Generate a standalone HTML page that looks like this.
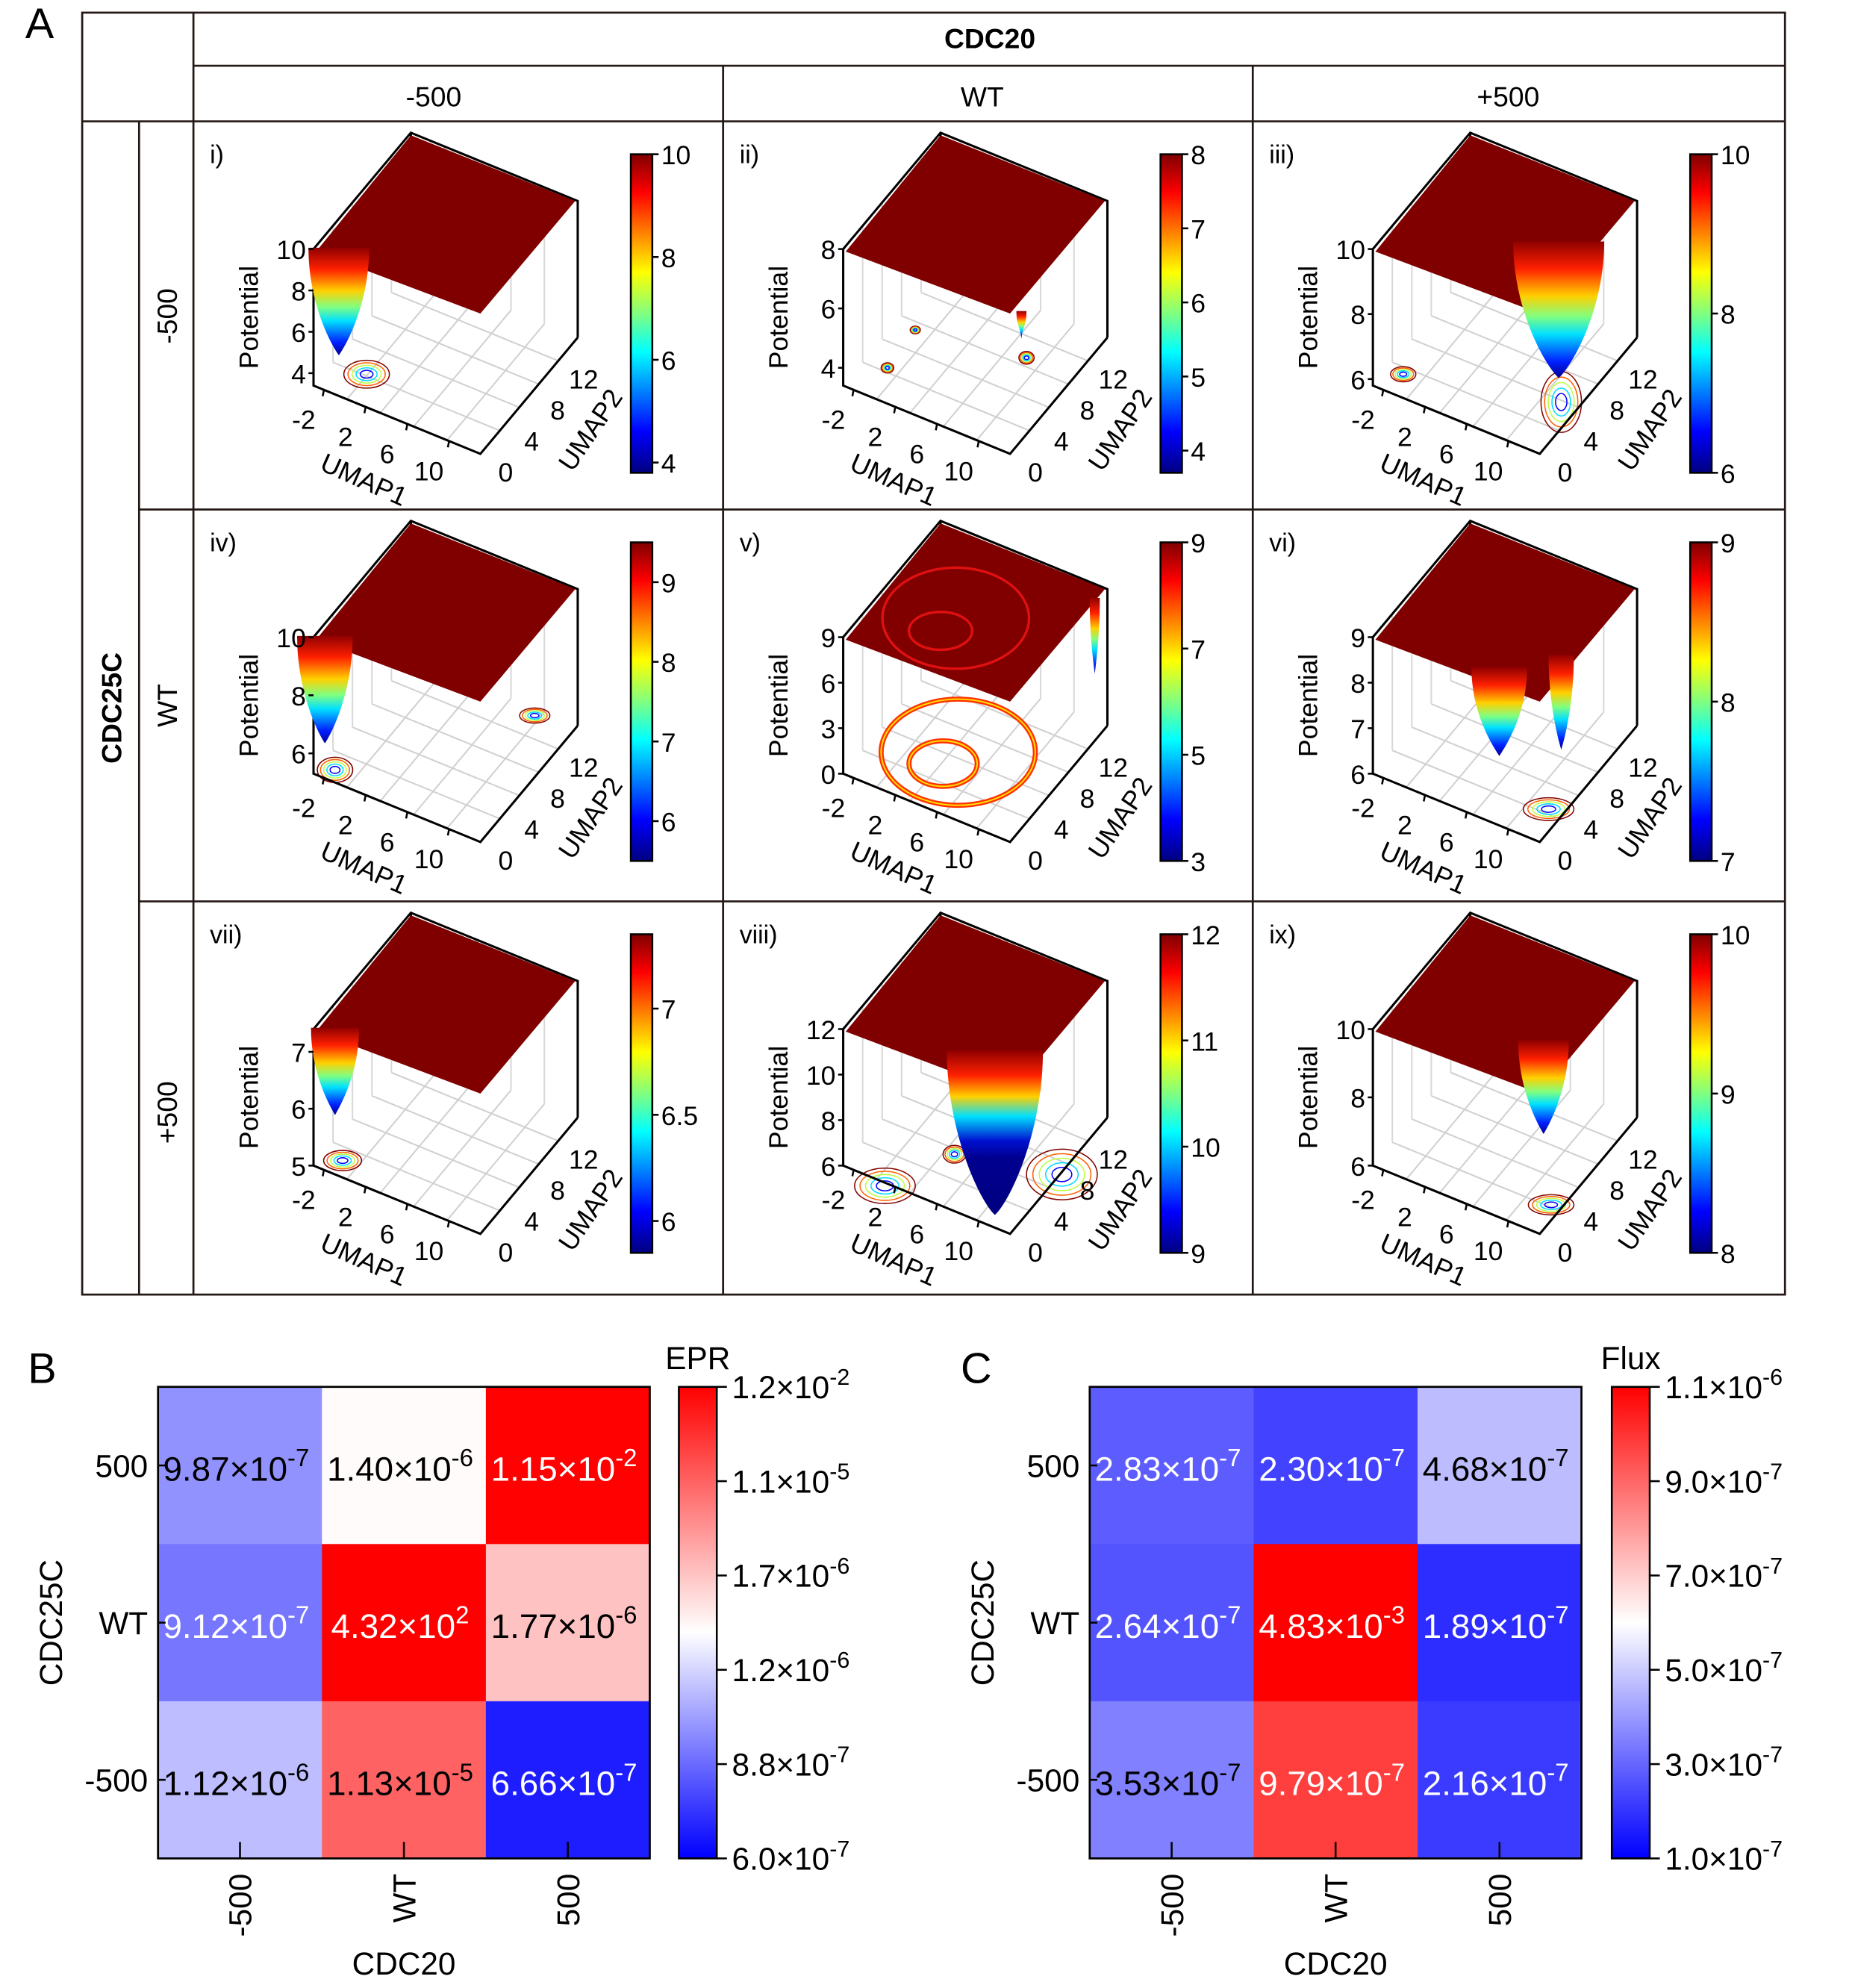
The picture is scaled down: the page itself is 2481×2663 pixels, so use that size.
<!DOCTYPE html>
<html><head><meta charset="utf-8">
<style>
html,body{margin:0;padding:0;background:#fff;}
svg{display:block;font-family:"Liberation Sans",Arial,sans-serif;}
</style></head>
<body>
<svg id="fig" xmlns="http://www.w3.org/2000/svg" width="2481" height="2663" viewBox="0 0 1465 1572.5">
<defs>
<linearGradient id="jetV" x1="0" y1="0" x2="0" y2="1">
<stop offset="0" stop-color="#800000"/><stop offset="0.12" stop-color="#ff0000"/><stop offset="0.37" stop-color="#ffff00"/><stop offset="0.5" stop-color="#80ff80"/><stop offset="0.62" stop-color="#00ffff"/><stop offset="0.87" stop-color="#0000ff"/><stop offset="1" stop-color="#000080"/>
</linearGradient>
<linearGradient id="wellG" x1="0" y1="0" x2="0" y2="1">
<stop offset="0" stop-color="#900000"/><stop offset="0.2" stop-color="#ff2000"/><stop offset="0.4" stop-color="#ffd000"/><stop offset="0.55" stop-color="#80ff80"/><stop offset="0.68" stop-color="#00e0ff"/><stop offset="0.88" stop-color="#0020ff"/><stop offset="1" stop-color="#000090"/>
</linearGradient>
<linearGradient id="wellDeep" x1="0" y1="0" x2="0" y2="1">
<stop offset="0" stop-color="#900000"/><stop offset="0.15" stop-color="#ff2000"/><stop offset="0.28" stop-color="#ffd000"/><stop offset="0.4" stop-color="#00e0ff"/><stop offset="0.55" stop-color="#0010d0"/><stop offset="0.65" stop-color="#000090"/><stop offset="1" stop-color="#000080"/>
</linearGradient>
<linearGradient id="bwrB" x1="0" y1="1" x2="0" y2="0">
<stop offset="0" stop-color="#0000ff"/><stop offset="0.48" stop-color="#ffffff"/><stop offset="1" stop-color="#ff0000"/>
</linearGradient>
<linearGradient id="bwrC" x1="0" y1="1" x2="0" y2="0">
<stop offset="0" stop-color="#0000ff"/><stop offset="0.5" stop-color="#ffffff"/><stop offset="1" stop-color="#ff0000"/>
</linearGradient>
</defs>

<g stroke="#231815" stroke-width="1.6" fill="none">
<rect x="65" y="10" width="1347" height="1014"/>
<line x1="153" y1="10" x2="153" y2="1024"/>
<line x1="153" y1="52" x2="1412" y2="52"/>
<line x1="65" y1="96" x2="1412" y2="96"/>
<line x1="110" y1="96" x2="110" y2="1024"/>
<line x1="572" y1="52" x2="572" y2="1024"/>
<line x1="991" y1="52" x2="991" y2="1024"/>
<line x1="110" y1="403" x2="1412" y2="403"/>
<line x1="110" y1="713" x2="1412" y2="713"/>
</g>
<text x="20" y="30" font-size="34">A</text>
<text x="783" y="38" font-size="22" font-weight="bold" text-anchor="middle">CDC20</text>
<text x="343" y="84" font-size="22" text-anchor="middle">-500</text>
<text x="777" y="84" font-size="22" text-anchor="middle">WT</text>
<text x="1193" y="84" font-size="22" text-anchor="middle">+500</text>
<text transform="translate(96,560) rotate(-90)" font-size="22" font-weight="bold" text-anchor="middle">CDC25C</text>
<text transform="translate(140,250) rotate(-90)" font-size="22" text-anchor="middle">-500</text>
<text transform="translate(140,558) rotate(-90)" font-size="22" text-anchor="middle">WT</text>
<text transform="translate(140,880) rotate(-90)" font-size="22" text-anchor="middle">+500</text>

<g id="panels"></g>
<g id="heatB"></g>
<g id="heatC"></g>
</svg>

<script>
// ---------- Heatmap data ----------
const rowCats = ["500", "WT", "-500"];
const colCats = ["-500", "WT", "500"];
const eprMant = [[9.87, 1.40, 1.15], [9.12, 4.32, 1.77], [1.12, 1.13, 6.66]];
const eprExp  = [[-7, -6, -2], [-7, 2, -6], [-6, -5, -7]];
const eprTickMant = [6.0, 8.8, 1.2, 1.7, 1.1, 1.2];
const eprTickExp  = [-7, -7, -6, -6, -5, -2];
const fluxMant = [[2.83, 2.30, 4.68], [2.64, 4.83, 1.89], [3.53, 9.79, 2.16]];
const fluxExp  = [[-7, -7, -7], [-7, -3, -7], [-7, -7, -7]];
const fluxTickMant = [1.0, 3.0, 5.0, 7.0, 9.0, 1.1];
const fluxTickExp  = [-7, -7, -7, -7, -7, -6];

// ---------- 3D panel data ----------
const panelLabels = ["i)", "ii)", "iii)", "iv)", "v)", "vi)", "vii)", "viii)", "ix)"];
const zTicks = [[10, 8, 6, 4], [8, 6, 4], [10, 8, 6], [10, 8, 6], [9, 6, 3, 0], [9, 8, 7, 6], [7, 6, 5], [12, 10, 8, 6], [10, 8, 6]];
const zMin = [3.4, 3.4, 5.8, 5.3, 0, 6, 5, 6, 6];
const zMax = [10, 8, 10, 10, 9, 9, 7.4, 12, 10];
const cbTicks = [[10, 8, 6, 4], [8, 7, 6, 5, 4], [10, 8, 6], [9, 8, 7, 6], [9, 7, 5, 3], [9, 8, 7], [7, 6.5, 6], [12, 11, 10, 9], [10, 9, 8]];
const cbMin = [3.8, 3.7, 6, 5.5, 3, 7, 5.85, 9, 8];
const cbMax = [10, 8, 10, 9.5, 9, 9, 7.35, 12, 10];
const umap1Ticks = [-2, 2, 6, 10];
const umap2Ticks = [0, 4, 8, 12];
// wells (panel-relative sketch): [x, yTop, yTip, halfWidth]
const wells = [[[115, 100, 185, 24]], [[236, 150, 172, 4]], [[242, 95, 203, 36]],
  [[104, 100, 185, 22]], [[294, 70, 130, 4]], [[195, 125, 195, 22], [244, 115, 190, 10]],
  [[112, 100, 169, 19]], [[215, 118, 248, 38]], [[230, 110, 184, 20]]];
// floor contours: [x, y, rx, ry]
const contours = [[[137, 200, 18, 11]], [[130, 195, 5, 4], [152, 165, 4, 3], [240, 187, 6, 5]], [[244, 222, 16, 24], [119, 200, 10, 6]],
  [[112, 206, 14, 10], [270, 163, 12, 6]], [], [[234, 237, 20, 9]], [[118, 205, 15, 8]], [[128, 225, 24, 14], [183, 200, 9, 7], [268, 216, 28, 20]], [[236, 240, 18, 8]]];

const NS = "http://www.w3.org/2000/svg";
function mk(tag, parent) { const e = document.createElementNS(NS, tag); parent.appendChild(e); return e; }
function jet(t) {
  t = Math.max(0, Math.min(1, t));
  const r = Math.max(0, Math.min(1, 1.5 - Math.abs(4 * t - 3)));
  const g = Math.max(0, Math.min(1, 1.5 - Math.abs(4 * t - 2)));
  const b = Math.max(0, Math.min(1, 1.5 - Math.abs(4 * t - 1)));
  return `rgb(${Math.round(r * 255)},${Math.round(g * 255)},${Math.round(b * 255)})`;
}

const cols = [153, 572, 991];
const rowsY = [96, 403, 713];
const panelsG = document.getElementById("panels");

for (let p = 0; p < 9; p++) {
  const ox = cols[p % 3], oy = rowsY[Math.floor(p / 3)];
  const g = mk("g", panelsG);
  
  
  g.setAttribute("transform", `translate(${ox},${oy})`);
  const L = [95, 209], F = [227, 263], R = [304, 171], H = 108;
  function floorPt(u1, u2) {
    const a = (u1 + 3) / 16, b = u2 / 15;
    return [L[0] + a * (F[0] - L[0]) + b * (R[0] - F[0]), L[1] + a * (F[1] - L[1]) + b * (R[1] - F[1])];
  }
  function zY(z) { return -(z - zMin[p]) / (zMax[p] - zMin[p]) * H; }
  const B = [L[0] + R[0] - F[0], L[1] + R[1] - F[1]];

  const grid = mk("g", g);
  
  
  for (let k = 1; k <= 4; k++) {
    const u1 = -3 + k * 3.2;
    const a = floorPt(u1, 0), b = floorPt(u1, 15);
    const ln = mk("line", grid);
    ln.setAttribute("x1", a[0]); ln.setAttribute("y1", a[1]); ln.setAttribute("x2", b[0]); ln.setAttribute("y2", b[1]);
    ln.setAttribute("stroke", "#d0d0d0"); ln.setAttribute("stroke-width", "1.2");
    const u2 = k * 3;
    const c = floorPt(-3, u2), d = floorPt(13, u2);
    const ln2 = mk("line", grid);
    ln2.setAttribute("x1", c[0]); ln2.setAttribute("y1", c[1]); ln2.setAttribute("x2", d[0]); ln2.setAttribute("y2", d[1]);
    ln2.setAttribute("stroke", "#d0d0d0"); ln2.setAttribute("stroke-width", "1.2");
    const e1 = [B[0] + (R[0] - B[0]) * k / 5, B[1] + (R[1] - B[1]) * k / 5];
    const ln3 = mk("line", grid);
    ln3.setAttribute("x1", e1[0]); ln3.setAttribute("y1", e1[1]); ln3.setAttribute("x2", e1[0]); ln3.setAttribute("y2", e1[1] - H);
    ln3.setAttribute("stroke", "#d8d8d8"); ln3.setAttribute("stroke-width", "1.2");
    const e2 = [L[0] + (B[0] - L[0]) * k / 5, L[1] + (B[1] - L[1]) * k / 5];
    const ln4 = mk("line", grid);
    ln4.setAttribute("x1", e2[0]); ln4.setAttribute("y1", e2[1]); ln4.setAttribute("x2", e2[0]); ln4.setAttribute("y2", e2[1] - H);
    ln4.setAttribute("stroke", "#d8d8d8"); ln4.setAttribute("stroke-width", "1.2");
  }

  contours[p].forEach(c => {
    for (let k = 0; k < 5; k++) {
      const el = mk("ellipse", g);
      
      
      el.setAttribute("cx", c[0]); el.setAttribute("cy", c[1]);
      el.setAttribute("rx", c[2] * (1 - k * 0.18)); el.setAttribute("ry", c[3] * (1 - k * 0.18));
      el.setAttribute("fill", "none"); el.setAttribute("stroke", jet(1 - k * 0.22)); el.setAttribute("stroke-width", "0.9");
    }
  });
  if (p === 4) {
    const ringsF = [[186, 192, 61, 42], [174, 201, 27, 18]];
    ringsF.forEach(r => {
      const el = mk("ellipse", g);
      
      
      el.setAttribute("cx", r[0]); el.setAttribute("cy", r[1]); el.setAttribute("rx", r[2]); el.setAttribute("ry", r[3]);
      el.setAttribute("fill", "none"); el.setAttribute("stroke", "#ff3000"); el.setAttribute("stroke-width", "4");
      const el2 = mk("ellipse", g);
      
      
      el2.setAttribute("cx", r[0]); el2.setAttribute("cy", r[1]); el2.setAttribute("rx", r[2]); el2.setAttribute("ry", r[3]);
      el2.setAttribute("fill", "none"); el2.setAttribute("stroke", "#ffe000"); el2.setAttribute("stroke-width", "1.2");
    });
  }

  const ax = mk("path", g);
  
  
  ax.setAttribute("d", `M${L[0]},${L[1] - H} L${L[0]},${L[1]} L${F[0]},${F[1]} L${R[0]},${R[1]} M${R[0]},${R[1]} L${R[0]},${R[1] - H} L${B[0]},${B[1] - H} L${L[0]},${L[1] - H} M${B[0]},${B[1] - H} L${B[0]},${B[1]}`);
  ax.setAttribute("fill", "none"); ax.setAttribute("stroke", "#000"); ax.setAttribute("stroke-width", "1.8");

  const top = -H;
  const plane = mk("polygon", g);
  
  
  plane.setAttribute("points", `${L[0] + 2},${L[1] + top + 2} ${B[0]},${B[1] + top + 2} ${R[0] - 2},${R[1] + top} ${F[0]},${F[1] + top - 3}`);
  plane.setAttribute("fill", "#800000");
  if (p === 4) {
    [[184, 86, 58, 40], [172, 96, 25, 15]].forEach(r => {
      const el = mk("ellipse", g);
      
      
      el.setAttribute("cx", r[0]); el.setAttribute("cy", r[1]); el.setAttribute("rx", r[2]); el.setAttribute("ry", r[3]);
      el.setAttribute("fill", "none"); el.setAttribute("stroke", "#e01010"); el.setAttribute("stroke-width", "2");
    });
  }
  wells[p].forEach(w => {
    const cx = w[0], yTop = w[1], yBot = w[2], hw = w[3];
    const el = mk("path", g);
    
    
    el.setAttribute("d", `M${cx - hw},${yTop} L${cx + hw},${yTop} C${cx + hw},${yTop + (yBot - yTop) * 0.5} ${cx + hw * 0.3},${yBot - 10} ${cx},${yBot} C${cx - hw * 0.3},${yBot - 10} ${cx - hw},${yTop + (yBot - yTop) * 0.5} ${cx - hw},${yTop} Z`);
    el.setAttribute("fill", p === 7 ? "url(#wellDeep)" : "url(#wellG)");
  });

  zTicks[p].forEach(z => {
    const y = L[1] + zY(z);
    const t = mk("line", g);
    t.setAttribute("x1", L[0] - 4); t.setAttribute("x2", L[0]); t.setAttribute("y1", y); t.setAttribute("y2", y);
    t.setAttribute("stroke", "#000"); t.setAttribute("stroke-width", "1.5");
    const tx = mk("text", g);
    
    
    tx.setAttribute("x", L[0] - 6); tx.setAttribute("y", y + 8); tx.setAttribute("font-size", "21"); tx.setAttribute("text-anchor", "end");
    tx.textContent = z;
  });
  const zl = mk("text", g);
  
  
  zl.setAttribute("transform", `translate(51,155) rotate(-90)`); zl.setAttribute("font-size", "21"); zl.setAttribute("text-anchor", "middle");
  zl.textContent = "Potential";

  umap1Ticks.forEach(u => {
    const fp = floorPt(u, 0);
    const tk = mk("line", g);
    tk.setAttribute("x1", fp[0]); tk.setAttribute("y1", fp[1]); tk.setAttribute("x2", fp[0] - 1); tk.setAttribute("y2", fp[1] + 5);
    tk.setAttribute("stroke", "#000"); tk.setAttribute("stroke-width", "1.5");
    const tx = mk("text", g);
    
    
    tx.setAttribute("x", fp[0] - 16); tx.setAttribute("y", fp[1] + 31); tx.setAttribute("font-size", "21"); tx.setAttribute("text-anchor", "middle");
    tx.textContent = u;
  });
  const u1l = mk("text", g);
  
  
  u1l.setAttribute("transform", "translate(132,290) rotate(24)"); u1l.setAttribute("font-size", "21"); u1l.setAttribute("text-anchor", "middle");
  u1l.textContent = "UMAP1";
  umap2Ticks.forEach(u => {
    const fp = floorPt(13, u);
    const tx = mk("text", g);
    
    
    tx.setAttribute("x", fp[0] + 20); tx.setAttribute("y", fp[1] + 22); tx.setAttribute("font-size", "21"); tx.setAttribute("text-anchor", "middle");
    tx.textContent = u;
  });
  const u2l = mk("text", g);
  
  
  u2l.setAttribute("transform", "translate(320,248) rotate(-56)"); u2l.setAttribute("font-size", "21"); u2l.setAttribute("text-anchor", "middle");
  u2l.textContent = "UMAP2";

  const pl = mk("text", g);
  
  
  pl.setAttribute("x", 13); pl.setAttribute("y", 33); pl.setAttribute("font-size", "20");
  pl.textContent = panelLabels[p];

  const cbTop = 26, cbBot = 278, cbX = 346, cbW = 17;
  const cb = mk("rect", g);
  
  
  cb.setAttribute("x", cbX); cb.setAttribute("y", cbTop); cb.setAttribute("width", cbW); cb.setAttribute("height", cbBot - cbTop);
  cb.setAttribute("fill", "url(#jetV)"); cb.setAttribute("stroke", "#000"); cb.setAttribute("stroke-width", "1.5");
  cbTicks[p].forEach(v => {
    const y = cbBot - (v - cbMin[p]) / (cbMax[p] - cbMin[p]) * (cbBot - cbTop);
    const t = mk("line", g);
    t.setAttribute("x1", cbX + cbW); t.setAttribute("x2", cbX + cbW + 5); t.setAttribute("y1", y); t.setAttribute("y2", y);
    t.setAttribute("stroke", "#000"); t.setAttribute("stroke-width", "1.5");
    const tx = mk("text", g);
    
    
    tx.setAttribute("x", cbX + cbW + 7); tx.setAttribute("y", y + 8); tx.setAttribute("font-size", "21");
    tx.textContent = v;
  });
}

// ---------- Heatmaps ----------
function sciText(parent, x, y, mantStr, exp, fs, fill, anchor) {
  const t = mk("text", parent);
  t.setAttribute("x", x); t.setAttribute("y", y); t.setAttribute("font-size", fs); t.setAttribute("fill", fill);
  if (anchor) t.setAttribute("text-anchor", anchor);
  const a = mk("tspan", t); a.textContent = mantStr + "\u00d710";
  const b = mk("tspan", t); b.setAttribute("dy", -fs * 0.42); b.setAttribute("font-size", fs * 0.72); b.textContent = exp;
  return t;
}
function drawHeat(gid, X0, Y0, W, Hh, mant, exps, tickM, tickE, whiteAt, scaleFn, gradId, cbX, title, letter, letterX, name) {
  const g = document.getElementById(gid);
  
  
  const cw = W / 3, ch = Hh / 3;
  const tickVals = tickM.map((m, i) => m * Math.pow(10, tickE[i]));
  for (let r = 0; r < 3; r++) for (let c = 0; c < 3; c++) {
    const v = mant[r][c] * Math.pow(10, exps[r][c]);
    const t = scaleFn(v, tickVals);
    let col, dist;
    if (t < whiteAt) { const f = t / whiteAt; const k = Math.round(255 * f); col = `rgb(${k},${k},255)`; dist = 1 - f; }
    else { const f = (t - whiteAt) / (1 - whiteAt); const k = Math.round(255 * (1 - f)); col = `rgb(255,${k},${k})`; dist = f; }
    const rect = mk("rect", g);
    
    
    rect.setAttribute("x", X0 + c * cw); rect.setAttribute("y", Y0 + r * ch); rect.setAttribute("width", cw + 0.5); rect.setAttribute("height", ch + 0.5);
    rect.setAttribute("fill", col);
    const white = t < whiteAt ? dist > 0.52 : dist > 0.7;
    const tx = sciText(g, X0 + c * cw + cw / 2 - 3, Y0 + r * ch + ch / 2 + 12, mant[r][c].toFixed(2), exps[r][c], 27, white ? "#fff" : "#000", "middle");
    
    
  }
  const fr = mk("rect", g);
  fr.setAttribute("x", X0); fr.setAttribute("y", Y0); fr.setAttribute("width", W); fr.setAttribute("height", Hh);
  fr.setAttribute("fill", "none"); fr.setAttribute("stroke", "#000"); fr.setAttribute("stroke-width", "1.6");
  rowCats.forEach((rc, r) => {
    const y = Y0 + r * ch + ch / 2;
    const tk = mk("line", g);
    tk.setAttribute("x1", X0); tk.setAttribute("x2", X0 + 6); tk.setAttribute("y1", y); tk.setAttribute("y2", y);
    tk.setAttribute("stroke", "#000"); tk.setAttribute("stroke-width", "1.5");
    const tx = mk("text", g);
    
    
    tx.setAttribute("x", X0 - 8); tx.setAttribute("y", y + 9); tx.setAttribute("font-size", "25"); tx.setAttribute("text-anchor", "end");
    tx.textContent = rc;
  });
  colCats.forEach((cc, c) => {
    const x = X0 + c * cw + cw / 2;
    const tk = mk("line", g);
    tk.setAttribute("x1", x); tk.setAttribute("x2", x); tk.setAttribute("y1", Y0 + Hh); tk.setAttribute("y2", Y0 + Hh - 13);
    tk.setAttribute("stroke", "#000"); tk.setAttribute("stroke-width", "1.5");
    const tx = mk("text", g);
    
    
    tx.setAttribute("transform", `translate(${x + 9},${Y0 + Hh + 12}) rotate(-90)`); tx.setAttribute("font-size", "25"); tx.setAttribute("text-anchor", "end");
    tx.textContent = cc;
  });
  const xt = mk("text", g);
  
  
  xt.setAttribute("x", X0 + W / 2); xt.setAttribute("y", Y0 + Hh + 92); xt.setAttribute("font-size", "25"); xt.setAttribute("text-anchor", "middle");
  xt.textContent = "CDC20";
  const yt = mk("text", g);
  
  
  yt.setAttribute("transform", `translate(${X0 - 76},${Y0 + Hh / 2}) rotate(-90)`); yt.setAttribute("font-size", "25"); yt.setAttribute("text-anchor", "middle");
  yt.textContent = "CDC25C";
  const cb = mk("rect", g);
  
  
  cb.setAttribute("x", cbX); cb.setAttribute("y", Y0); cb.setAttribute("width", 30); cb.setAttribute("height", Hh);
  cb.setAttribute("fill", `url(#${gradId})`); cb.setAttribute("stroke", "#000"); cb.setAttribute("stroke-width", "1.5");
  tickM.forEach((m, i) => {
    const y = Y0 + Hh - i / (tickM.length - 1) * Hh;
    const tk = mk("line", g);
    tk.setAttribute("x1", cbX + 30); tk.setAttribute("x2", cbX + 38); tk.setAttribute("y1", y); tk.setAttribute("y2", y);
    tk.setAttribute("stroke", "#000"); tk.setAttribute("stroke-width", "1.5");
    const tx = sciText(g, cbX + 42, y + 9, m.toFixed(1), tickE[i], 25, "#000", null);
    
    
  });
  const ct = mk("text", g);
  
  
  ct.setAttribute("x", cbX + 15); ct.setAttribute("y", Y0 - 14); ct.setAttribute("font-size", "25"); ct.setAttribute("text-anchor", "middle");
  ct.textContent = title;
  const lt = mk("text", g);
  
  
  lt.setAttribute("x", letterX); lt.setAttribute("y", Y0 - 3); lt.setAttribute("font-size", "34");
  lt.textContent = letter;
}
function logPiecewise(v, ticks) {
  if (v <= ticks[0]) return 0;
  for (let i = 0; i < ticks.length - 1; i++) {
    if (v <= ticks[i + 1]) return (i + Math.log(v / ticks[i]) / Math.log(ticks[i + 1] / ticks[i])) / (ticks.length - 1);
  }
  return 1;
}
function linear(v, ticks) { return Math.max(0, Math.min(1, (v - ticks[0]) / (ticks[ticks.length - 1] - ticks[0]))); }

drawHeat("heatB", 125, 1097, 389, 373, eprMant, eprExp, eprTickMant, eprTickExp, 0.48, logPiecewise, "bwrB", 537, "EPR", "B", 22, "epr-heatmap");
drawHeat("heatC", 862, 1097, 389, 373, fluxMant, fluxExp, fluxTickMant, fluxTickExp, 0.5, linear, "bwrC", 1275, "Flux", "C", 760, "flux-heatmap");
</script>
</body></html>
